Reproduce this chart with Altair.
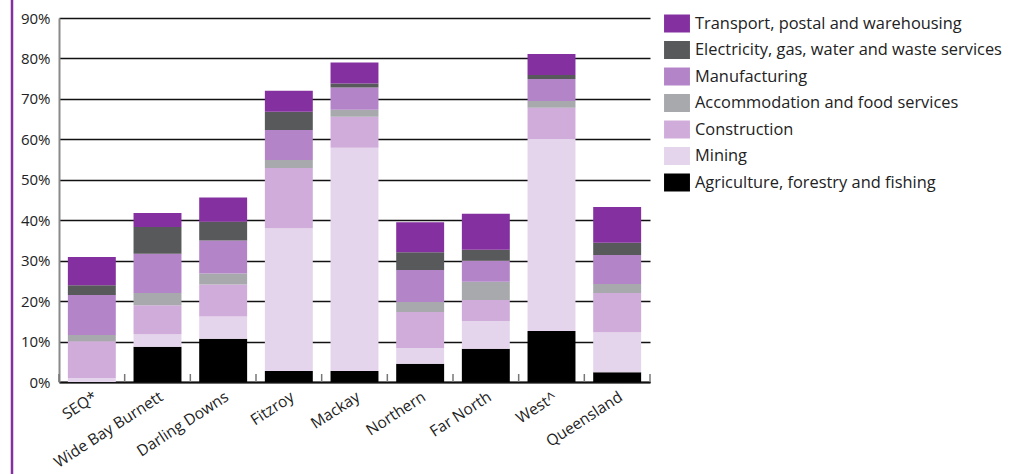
import altair as alt
import pandas as pd

regions = ["SEQ*", "Wide Bay Burnett", "Darling Downs", "Fitzroy", "Mackay",
           "Northern", "Far North", "West^", "Queensland"]

agriculture   = [0.0, 8.7, 10.7, 2.7, 2.7, 4.5, 8.2, 12.6, 2.4]
mining        = [1.0, 3.1, 5.5, 35.3, 55.2, 3.9, 6.9, 47.5, 9.9]
construction  = [9.1, 7.2, 7.9, 14.9, 7.7, 8.9, 5.2, 7.7, 9.7]
accommodation = [1.5, 3.0, 2.7, 2.0, 1.7, 2.5, 4.5, 1.7, 2.2]
manufacturing = [9.9, 9.7, 8.2, 7.4, 5.5, 7.9, 5.2, 5.4, 7.2]
electricity   = [2.4, 6.6, 4.6, 4.5, 1.0, 4.4, 2.7, 1.0, 3.0]
transport     = [7.0, 3.5, 6.0, 5.2, 5.2, 7.4, 8.9, 5.2, 8.9]

# stacking order: bottom to top
industries = [
    ("Agriculture, forestry and fishing", agriculture),
    ("Mining", mining),
    ("Construction", construction),
    ("Accommodation and food services", accommodation),
    ("Manufacturing", manufacturing),
    ("Electricity, gas, water and waste services", electricity),
    ("Transport, postal and warehousing", transport),
]
legend_order = [name for name, _ in industries][::-1]
colors = ["#8430a0", "#58595b", "#b385c8", "#a7a9ac", "#d0acdb", "#e5d5ec", "#000000"]

rows = []
for k, (name, vals) in enumerate(industries):
    for r, v in zip(regions, vals):
        rows.append({"region": r, "industry": name, "value": v, "stack": k})
df = pd.DataFrame(rows)

W, H = 591, 364
FONT = "Open Sans"
P_IN, P_OUT = 0.27, 0.135
STEP = W / (len(regions) - P_IN + 2 * P_OUT)

bars = alt.Chart(df).mark_bar().encode(
    x=alt.X("region:N", sort=regions,
            scale=alt.Scale(paddingInner=P_IN, paddingOuter=P_OUT),
            axis=alt.Axis(title=None, labelAngle=-33, labelAlign="right",
                          labelBaseline="top", labelFontSize=15.5, labelFont=FONT,
                          labelColor="#222", tickSize=0, domainColor="#111",
                          domainWidth=2, labelPadding=7, labelLimit=300)),
    y=alt.Y("value:Q", stack="zero",
            scale=alt.Scale(domain=[0, 90], nice=False),
            axis=alt.Axis(title=None, values=list(range(0, 91, 10)),
                          labelExpr="datum.value + '%'", gridColor="#111",
                          gridWidth=1.3, domainColor="#8a8a8a", domainWidth=2,
                          tickSize=0, labelPadding=9, labelFontSize=15,
                          labelFont=FONT, labelColor="#222")),
    color=alt.Color("industry:N",
                    scale=alt.Scale(domain=legend_order, range=colors),
                    legend=alt.Legend(title=None, orient="none", legendX=609,
                                      legendY=-3.5, symbolType="M-1.44,-1L1.44,-1L1.44,1L-1.44,1Z",
                                      symbolSize=324, symbolStrokeWidth=0,
                                      symbolOpacity=1, labelFontSize=16.4,
                                      labelFont=FONT, labelColor="#222",
                                      rowPadding=8.5, labelOffset=9,
                                      labelLimit=400)),
    order=alt.Order("stack:Q", sort="ascending"),
)

ticks = alt.Chart(pd.DataFrame({"region": regions})).mark_rule(
    color="#777", strokeWidth=1.5).encode(
    x=alt.X("region:N", sort=regions, bandPosition=0),
    xOffset=alt.value(-P_IN * STEP / 2),
    y=alt.value(H - 8), y2=alt.value(H))

end_tick = alt.Chart(pd.DataFrame({"a": [0]})).mark_rule(
    color="#777", strokeWidth=1.5).encode(
    x=alt.value(W), y=alt.value(H - 8), y2=alt.value(H))

border = alt.Chart(pd.DataFrame({"a": [0]})).mark_rule(
    color="#8430a0", strokeWidth=2.5).encode(
    x=alt.value(-47), y=alt.value(-20), y2=alt.value(460))

chart = alt.layer(bars, ticks, end_tick, border).properties(
    width=W, height=H,
    autosize=alt.AutoSizeParams(type="none"),
    padding={"left": 59, "top": 18, "right": 361, "bottom": 92},
).configure_view(stroke=None)

chart.save("out.html", embed_options={"renderer": "svg", "actions": False})
